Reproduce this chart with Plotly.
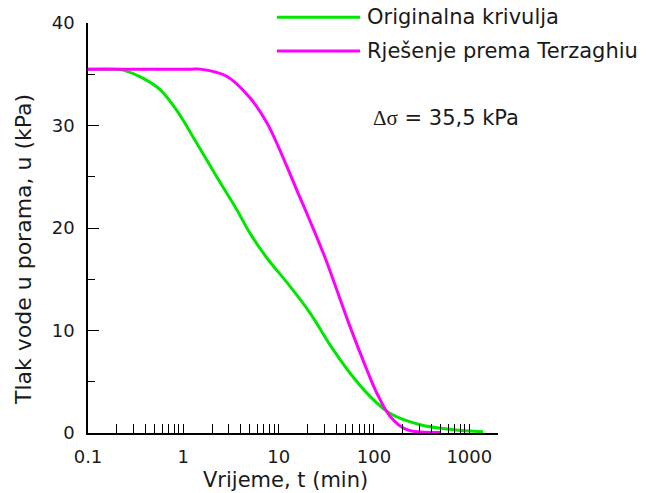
import numpy as np
import plotly.graph_objects as go

# Measured pore-pressure dissipation (time in minutes, pressure in kPa)
t_orig = [0.1, 0.2, 0.235, 0.38, 0.57, 0.85, 1.38, 2.24, 3.63, 5.0, 7.5,
          13.2, 21.4, 34.6, 56, 91, 148, 305, 681, 1400]
u_orig = [35.5, 35.5, 35.4, 34.6, 33.5, 31.5, 28.3, 25.0, 21.8, 19.5, 17.1,
          14.3, 11.7, 8.6, 5.85, 3.57, 1.9, 0.81, 0.32, 0.12]

# Terzaghi consolidation solution
t_terz = [0.1, 1.2, 1.5, 2.85, 5.0, 7.5, 10.3, 15.5, 21.4, 30.7, 56, 84,
          107, 148, 221, 494]
u_terz = [35.5, 35.5, 35.5, 34.8, 32.7, 30.3, 27.6, 23.7, 20.66, 17.1, 10.4, 6.2,
          3.9, 1.62, 0.32, 0.05]

series_names = ["Originalna krivulja", "Rješenje prema Terzaghiu"]
series_colors = ["#00e600", "#ff00ff"]

# Log-axis ticks: every integer multiple inside each decade, labels on decades only
x_tickvals = []
x_ticktext = []
for dec in [0.1, 1, 10, 100, 1000]:
    for m in range(1, 10):
        v = m * dec
        if v > 2000:
            break
        x_tickvals.append(v)
        x_ticktext.append(("%g" % v) if m == 1 else "")
x_tickvals.append(2000)
x_ticktext.append("")

y_major = [0, 10, 20, 30, 40]
y_minor = [5, 15, 25, 35]

FONT = "DejaVu Sans"
TXT = "#1a1a1a"

fig = go.Figure()
for t, u, name, col in [(t_orig, u_orig, series_names[0], series_colors[0]),
                        (t_terz, u_terz, series_names[1], series_colors[1])]:
    fig.add_trace(go.Scatter(x=t, y=u, mode="lines", name=name,
                             line=dict(color=col, width=3, shape="spline", smoothing=1.0)))

L, R, T, B = 88, 148, 23, 60
W, H = 646, 493
pw, ph = W - L - R, H - T - B


def px(x):
    return (x - L) / pw


def py(y):
    return (H - B - y) / ph


fig.update_layout(
    width=W, height=H,
    margin=dict(l=L, r=R, t=T, b=B, pad=0),
    plot_bgcolor="white", paper_bgcolor="white",
    showlegend=False,
    font=dict(family=FONT, color=TXT),
    xaxis=dict(type="log", range=[-1, np.log10(2000)],
               showline=True, linecolor="black", linewidth=1.5,
               ticks="inside", ticklen=9, tickwidth=1.2, tickcolor="black",
               tickvals=x_tickvals, ticktext=x_ticktext,
               tickfont=dict(size=18, color=TXT), ticklabelstandoff=7,
               showgrid=False, zeroline=False),
    yaxis=dict(range=[0, 40],
               showline=True, linecolor="black", linewidth=1.5,
               ticks="inside", ticklen=11, tickwidth=1.2, tickcolor="black",
               tickvals=y_major, tickfont=dict(size=18, color=TXT),
               ticklabelstandoff=8,
               minor=dict(tickvals=y_minor, ticks="inside", ticklen=7,
                          tickwidth=1.2, tickcolor="black", showgrid=False),
               showgrid=False, zeroline=False),
)

# Legend samples and labels
legend_rows = [17.3, 51]
for yy, name, col in zip(legend_rows, series_names, series_colors):
    fig.add_shape(type="line", xref="paper", yref="paper",
                  x0=px(277), x1=px(360), y0=py(yy), y1=py(yy),
                  line=dict(color=col, width=3))
    fig.add_annotation(xref="paper", yref="paper", x=px(365), y=py(yy),
                       text=name, showarrow=False, xanchor="left", yanchor="middle",
                       font=dict(size=21, color=TXT, family=FONT))

fig.add_annotation(xref="paper", yref="paper", x=px(371), y=py(118),
                   text='<span style="font-family:Liberation Serif">Δσ</span> = 35,5 kPa',
                   showarrow=False, xanchor="left", yanchor="middle",
                   font=dict(size=21, color=TXT, family=FONT))

# Axis titles
fig.add_annotation(xref="paper", yref="paper", x=px(285.5), y=py(480),
                   text="Vrijeme, t (min)", showarrow=False,
                   xanchor="center", yanchor="middle",
                   font=dict(size=21, color=TXT, family=FONT))
fig.add_annotation(xref="paper", yref="paper", x=px(23), y=py(250),
                   text="Tlak vode u porama, u (kPa)", showarrow=False, textangle=-90,
                   xanchor="center", yanchor="middle",
                   font=dict(size=22, color=TXT, family=FONT))

fig.write_html("out.html")
